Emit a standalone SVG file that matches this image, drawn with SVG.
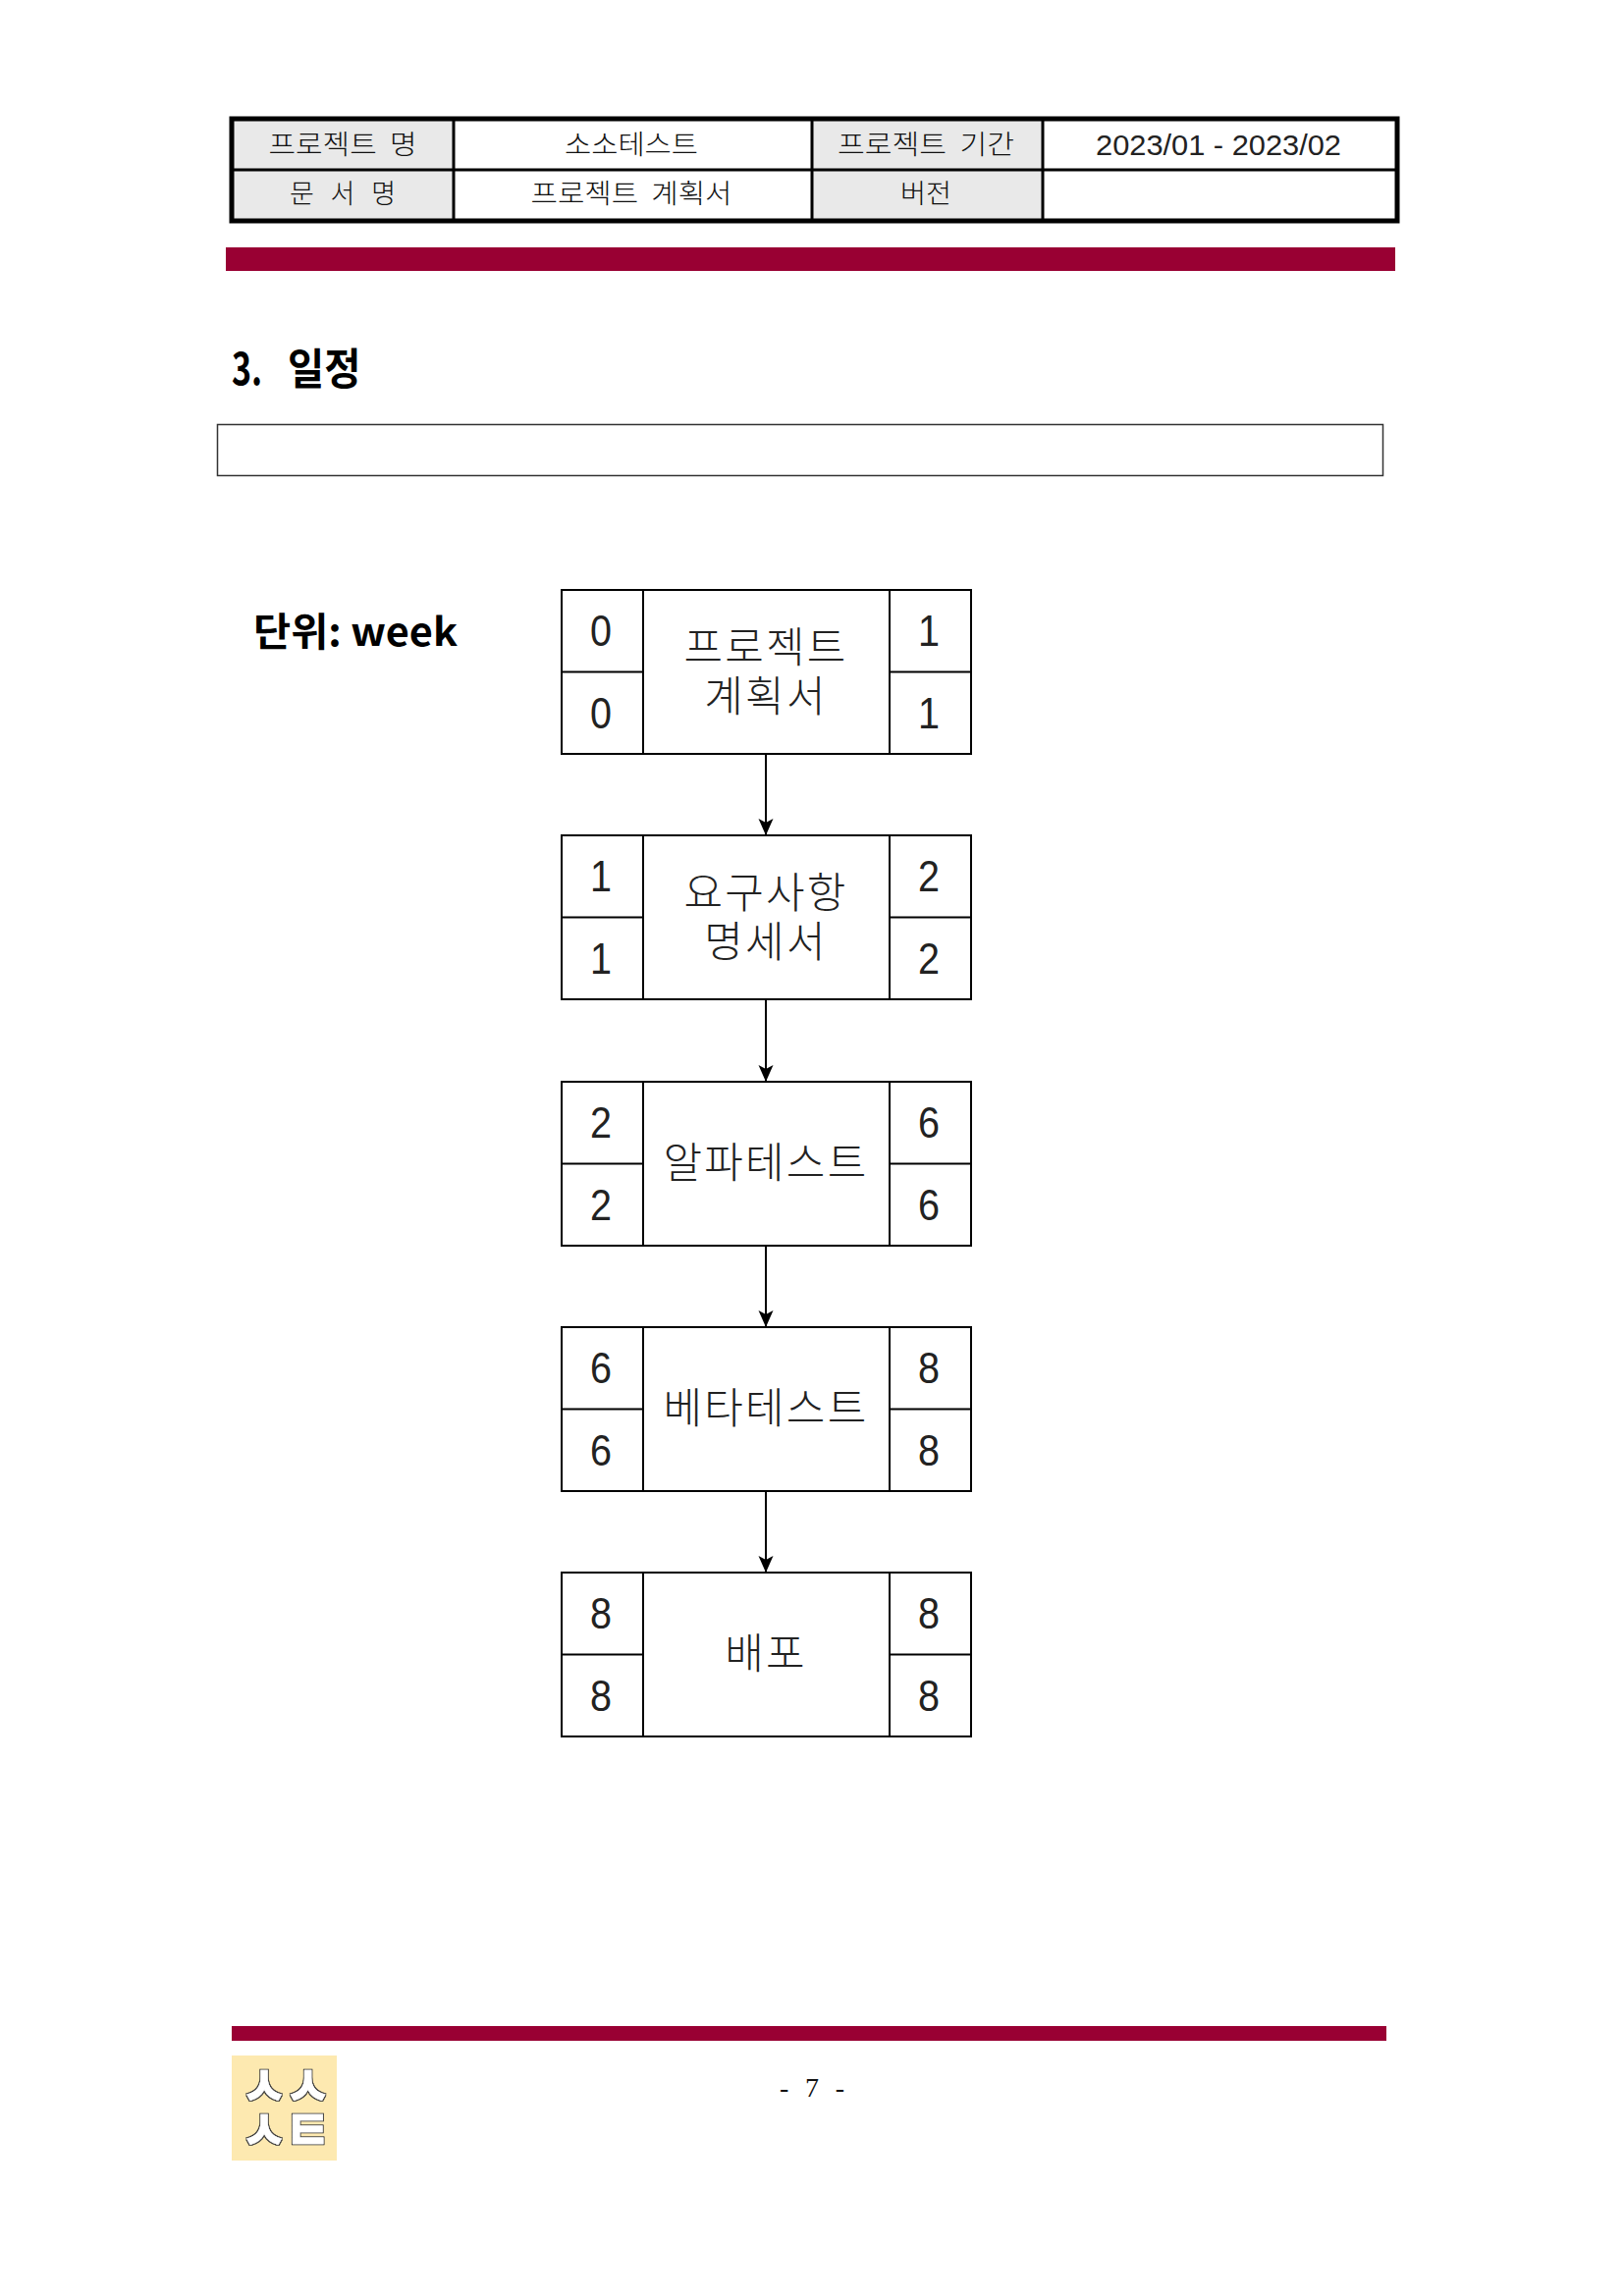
<svg xmlns="http://www.w3.org/2000/svg" width="1654" height="2339" viewBox="0 0 1654 2339">
<style>
text{font-family:"Noto Sans CJK KR","Noto Sans",sans-serif;fill:#111;text-anchor:middle}
.th{font-size:27px;font-weight:300}
.num{font-family:"Liberation Sans",sans-serif;font-size:45px;fill:#222}
.lab{font-size:43px;fill:#222;font-weight:300;letter-spacing:2.200px}
.cell{fill:#fff;stroke:#000;stroke-width:2}
.bar{fill:#990033}
.gray{fill:#e9e9e9}
.lg{font-size:58px;fill:#fff;stroke:#fff;stroke-width:.5;font-weight:700;letter-spacing:-4px}
.b{font-weight:700;text-anchor:start;fill:#000}
</style>
<defs>
<marker id="ah" markerUnits="userSpaceOnUse" markerWidth="18" markerHeight="18" refX="17" refY="9" orient="auto"><path d="M0 1.500L17 9L0 16.500L4 9Z" fill="#000"/></marker>
<filter id="outline" x="-10%" y="-10%" width="120%" height="120%"><feMorphology in="SourceAlpha" operator="dilate" radius="1.200" result="d"/><feFlood flood-color="#3c3c3c"/><feComposite in2="d" operator="in" result="o"/><feMerge><feMergeNode in="o"/><feMergeNode in="SourceGraphic"/></feMerge></filter>
<g id="node"><rect class="cell" x="572" y="0" width="417" height="167"/><path d="M655 0V167M906 0V167M572 83.500H655M906 83.500H989" fill="none" stroke="#000" stroke-width="2"/></g>
</defs>
<g id="header-table">
<rect class="gray" x="236" y="122" width="225" height="102"/>
<rect class="gray" x="827" y="122" width="235" height="102"/>
<path d="M462 120V225M827 120V225M1062 120V225M236 173H1422" fill="none" stroke="#000" stroke-width="3"/>
<rect x="236" y="121" width="1187" height="104" fill="none" stroke="#000" stroke-width="5"/>
<text class="th" x="349" y="157" textLength="151" lengthAdjust="spacingAndGlyphs" xml:space="preserve">프로젝트  명</text>
<text class="th" x="643" y="157" textLength="136" lengthAdjust="spacingAndGlyphs">소소테스트</text>
<text class="th" x="943" y="157" textLength="180" lengthAdjust="spacingAndGlyphs" xml:space="preserve">프로젝트  기간</text>
<text class="th" x="1241" y="158" style="font-family:'Liberation Sans',sans-serif;font-size:29px;fill:#222" textLength="250" lengthAdjust="spacingAndGlyphs">2023/01 - 2023/02</text>
<text class="th" x="349" y="207" textLength="108" xml:space="preserve">문 서 명</text>
<text class="th" x="643" y="207" textLength="205" lengthAdjust="spacingAndGlyphs" xml:space="preserve">프로젝트  계획서</text>
<text class="th" x="943" y="207" textLength="52" lengthAdjust="spacingAndGlyphs">버전</text>
</g>
<rect id="top-bar" class="bar" x="230" y="252" width="1191" height="24"/>
<g id="heading">
<text class="b" font-size="46" transform="translate(236,392) scale(.74,1)">3.</text>
<text class="b" font-size="44" transform="translate(293,392) scale(.92,1)">일정</text>
</g>
<rect id="blank-box" x="221.500" y="432.500" width="1187" height="52" fill="#fff" stroke="#333" stroke-width="1.500"/>
<text id="unit" class="b" x="258" y="658" font-size="40" textLength="208" lengthAdjust="spacingAndGlyphs">단위: week</text>
<g id="connectors" fill="none" stroke="#000" stroke-width="2" marker-end="url(#ah)">
<path d="M780 768V851"/><path d="M780 1018V1102"/><path d="M780 1269V1352"/><path d="M780 1519V1602"/>
</g>
<g id="node-plan" transform="translate(0,601)"><use href="#node"/>
<text class="num" x="612" y="57" textLength="22" lengthAdjust="spacingAndGlyphs">0</text><text class="num" x="612" y="141" textLength="22" lengthAdjust="spacingAndGlyphs">0</text><text class="num" x="946" y="57" textLength="22" lengthAdjust="spacingAndGlyphs">1</text><text class="num" x="946" y="141" textLength="22" lengthAdjust="spacingAndGlyphs">1</text>
<text class="lab"><tspan x="780" y="74">프로젝트</tspan><tspan x="780" y="124">계획서</tspan></text></g>
<g id="node-req" transform="translate(0,851)"><use href="#node"/>
<text class="num" x="612" y="57" textLength="22" lengthAdjust="spacingAndGlyphs">1</text><text class="num" x="612" y="141" textLength="22" lengthAdjust="spacingAndGlyphs">1</text><text class="num" x="946" y="57" textLength="22" lengthAdjust="spacingAndGlyphs">2</text><text class="num" x="946" y="141" textLength="22" lengthAdjust="spacingAndGlyphs">2</text>
<text class="lab"><tspan x="780" y="74">요구사항</tspan><tspan x="780" y="124">명세서</tspan></text></g>
<g id="node-alpha" transform="translate(0,1102)"><use href="#node"/>
<text class="num" x="612" y="57" textLength="22" lengthAdjust="spacingAndGlyphs">2</text><text class="num" x="612" y="141" textLength="22" lengthAdjust="spacingAndGlyphs">2</text><text class="num" x="946" y="57" textLength="22" lengthAdjust="spacingAndGlyphs">6</text><text class="num" x="946" y="141" textLength="22" lengthAdjust="spacingAndGlyphs">6</text>
<text class="lab" x="780" y="98">알파테스트</text></g>
<g id="node-beta" transform="translate(0,1352)"><use href="#node"/>
<text class="num" x="612" y="57" textLength="22" lengthAdjust="spacingAndGlyphs">6</text><text class="num" x="612" y="141" textLength="22" lengthAdjust="spacingAndGlyphs">6</text><text class="num" x="946" y="57" textLength="22" lengthAdjust="spacingAndGlyphs">8</text><text class="num" x="946" y="141" textLength="22" lengthAdjust="spacingAndGlyphs">8</text>
<text class="lab" x="780" y="98">베타테스트</text></g>
<g id="node-deploy" transform="translate(0,1602)"><use href="#node"/>
<text class="num" x="612" y="57" textLength="22" lengthAdjust="spacingAndGlyphs">8</text><text class="num" x="612" y="141" textLength="22" lengthAdjust="spacingAndGlyphs">8</text><text class="num" x="946" y="57" textLength="22" lengthAdjust="spacingAndGlyphs">8</text><text class="num" x="946" y="141" textLength="22" lengthAdjust="spacingAndGlyphs">8</text>
<text class="lab" x="780" y="98">배포</text></g>
<rect id="bottom-bar" class="bar" x="236" y="2064" width="1176" height="15"/>
<g id="logo"><rect x="236" y="2094" width="107" height="107" fill="#fde9b0"/>
<g filter="url(#outline)"><text class="lg" transform="translate(289.500,0) scale(.9,1)"><tspan x="0" y="2146">ㅅㅅ</tspan><tspan x="0" y="2191">ㅅㅌ</tspan></text></g></g>
<text id="page" x="827" y="2136" font-size="28" style="font-family:'Liberation Serif',serif" textLength="66" xml:space="preserve">- 7 -</text>
</svg>
